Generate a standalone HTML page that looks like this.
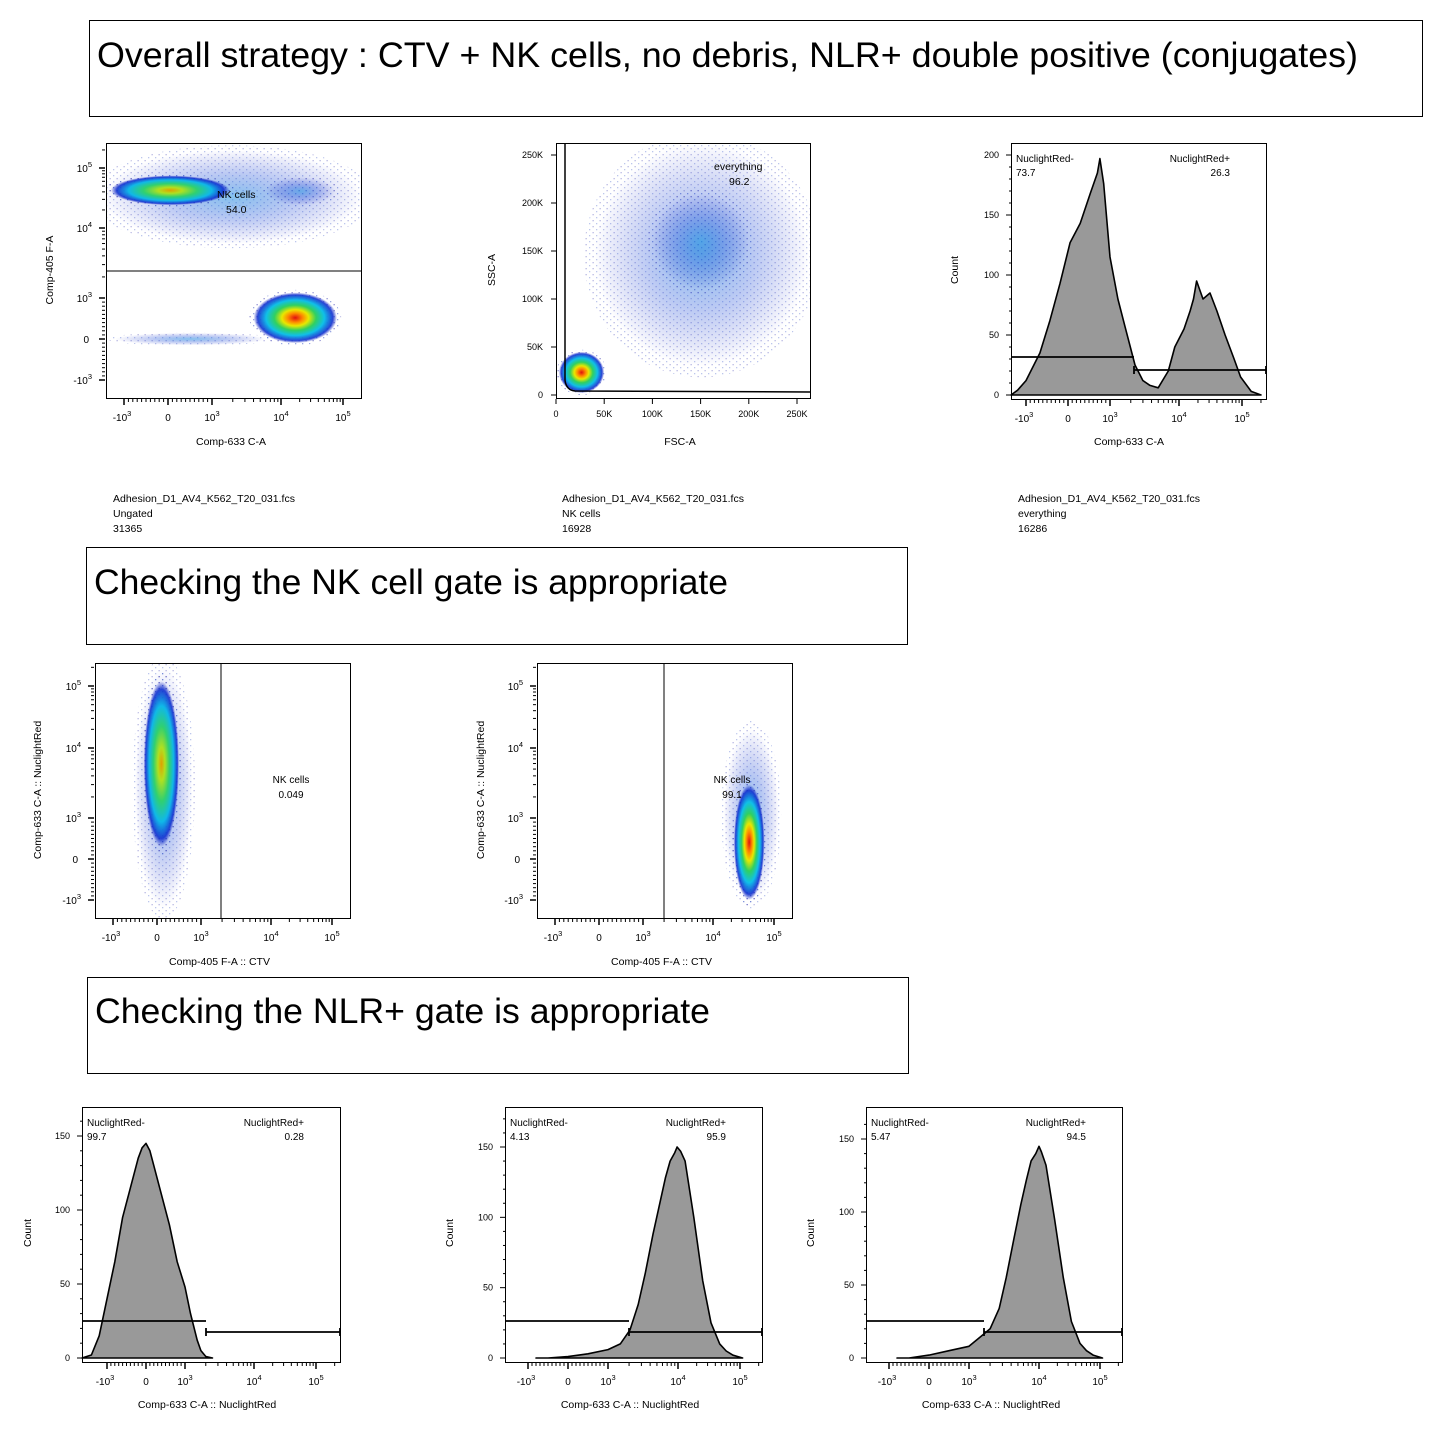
<!DOCTYPE html>
<html><head><meta charset="utf-8"><style>
html,body{margin:0;padding:0;background:#fff}
svg{display:block;font-family:"Liberation Sans",Arial,sans-serif}
</style></head><body>
<svg id="fig" width="1443" height="1443" viewBox="0 0 1443 1443">
<defs>
<radialGradient id="hot"><stop offset="0" stop-color="#e01010"/><stop offset="0.18" stop-color="#ff8a00"/><stop offset="0.32" stop-color="#e8e800"/><stop offset="0.5" stop-color="#30d060"/><stop offset="0.7" stop-color="#10c0e8"/><stop offset="0.9" stop-color="#1030d0" stop-opacity="0.9"/><stop offset="1" stop-color="#1020c0" stop-opacity="0"/></radialGradient>
<radialGradient id="warm"><stop offset="0" stop-color="#e0a000"/><stop offset="0.2" stop-color="#b0e020"/><stop offset="0.45" stop-color="#30d070"/><stop offset="0.7" stop-color="#10b8e8"/><stop offset="0.9" stop-color="#1030d0" stop-opacity="0.9"/><stop offset="1" stop-color="#1020c0" stop-opacity="0"/></radialGradient>
<radialGradient id="cool"><stop offset="0" stop-color="#2090e0" stop-opacity="0.55"/><stop offset="0.5" stop-color="#2050d8" stop-opacity="0.3"/><stop offset="1" stop-color="#1020c0" stop-opacity="0"/></radialGradient>
<pattern id="dots" width="7" height="6" patternUnits="userSpaceOnUse"><rect x="1" y="1" width="1.3" height="1.3" fill="#2040c0"/><rect x="4.5" y="4" width="1.3" height="1.3" fill="#1010a0"/></pattern>
</defs>
<g id="titles">
<rect x="89.5" y="20.5" width="1333" height="96" fill="none" stroke="#000"/>
<text x="97" y="67" font-size="35" textLength="1261" lengthAdjust="spacingAndGlyphs">Overall strategy : CTV + NK cells, no debris,  NLR+ double positive (conjugates)</text>
<rect x="86.5" y="547.5" width="821" height="97" fill="none" stroke="#000"/>
<text x="94" y="594" font-size="35" textLength="634" lengthAdjust="spacingAndGlyphs">Checking the NK cell gate is appropriate</text>
<rect x="87.5" y="977.5" width="821" height="96" fill="none" stroke="#000"/>
<text x="95" y="1023" font-size="35" textLength="615" lengthAdjust="spacingAndGlyphs">Checking the NLR+ gate is appropriate</text>
</g>
<g id="layer"></g>
</svg>
<script>
// ---------- data ----------
const topHistX = [-1400,-1200,-1000,-670,-430,-190,50,290,530,700,760,850,1000,1300,1650,2300,3000,3800,5000,7000,8700,12000,15000,17000,19000,24000,31000,40000,54000,75000,95000,140000,200000];
const topHistY = [0,4,12,35,62,93,127,143,168,185,197,176,115,80,57,25,12,8,6,20,40,55,70,80,95,80,85,70,50,30,15,3,0];
const b1HistX = [-1700,-1400,-1200,-1000,-800,-600,-400,-200,-100,0,100,200,400,600,800,1000,1200,1500,1700,2000,2500];
const b1HistY = [0,2,15,40,65,95,115,135,142,145,140,130,110,90,65,48,30,12,5,1,0];
const b2HistX = [-800,-500,0,500,1000,1500,2060,2700,3400,4400,5500,6600,7700,9000,9700,11000,13000,18000,25000,34000,47000,60000,77000,110000];
const b2HistY = [0,0,1,3,6,10,20,38,60,88,110,128,140,146,150,147,140,100,55,25,10,5,2,0];
const b3HistX = [-800,-500,0,500,1000,1500,2000,2700,3400,4400,5500,6600,7700,9000,10000,11000,13000,18000,25000,34000,47000,60000,77000,110000];
const b3HistY = [0,0,2,5,8,15,20,34,55,82,105,122,135,140,145,141,132,95,55,25,10,5,2,0];
const histGateLabels = [["NuclightRed-","73.7","NuclightRed+","26.3"],["NuclightRed-","99.7","NuclightRed+","0.28"],["NuclightRed-","4.13","NuclightRed+","95.9"],["NuclightRed-","5.47","NuclightRed+","94.5"]];
const countTicks = [0,50,100,150,200];
const linTicks = [0,50000,100000,150000,200000,250000];
const linTickLabels = ["0","50K","100K","150K","200K","250K"];

// ---------- helpers ----------
const NS="http://www.w3.org/2000/svg";
const layer=document.getElementById('layer');
const defs=document.querySelector('defs');
let clipN=0;
function mk(tag,attrs,parent){const e=document.createElementNS(NS,tag);for(const k in attrs)e.setAttribute(k,attrs[k]);(parent||layer).appendChild(e);return e;}
function txt(x,y,s,size,parent,anchor){const t=mk('text',{x:x,y:y,'font-size':size||10.5,'text-anchor':anchor||'start'},parent);t.textContent=s;return t;}
function clipGroup(g,box){const id='clip'+(clipN++);const c=mk('clipPath',{id:id},defs);mk('rect',{x:box[0],y:box[1],width:box[2]-box[0],height:box[3]-box[1]},c);return mk('g',{'clip-path':'url(#'+id+')'},g);}
function logicle(t){return v=> v<=1000 ? t[1]+(t[2]-t[1])*v/1000 : v<=1e4 ? t[2]+(t[3]-t[2])*Math.log10(v/1000) : t[3]+(t[4]-t[3])*Math.log10(v/1e4);}
function lin(p0,p1,v1){return v=>p0+(p1-p0)*v/v1;}
function pow10(parent,x,y,neg,exp,anchor){const t=mk('text',{x:x,y:y,'font-size':10,'text-anchor':anchor},parent);t.appendChild(document.createTextNode((neg?'-':'')+'10'));const s=mk('tspan',{'font-size':7.5,dy:-5},t);s.textContent=exp;return t;}
function logTicksX(g,sx,yb,xr){
  const maj=[[-1000,'-',3],[0,null,0],[1000,'',3],[10000,'',4],[100000,'',5]];
  for(let v=-1000;v<=1000;v+=100){const x=sx(v);if(x<xr[0]||x>xr[1])continue;mk('line',{x1:x,x2:x,y1:yb,y2:yb+(v%1000==0?6:3),stroke:'#000'},g);}
  for(let d=1000;d<1e6;d*=10)for(let m=2;m<10;m++){const x=sx(d*m);if(x>xr[1])break;mk('line',{x1:x,x2:x,y1:yb,y2:yb+3,stroke:'#000'},g);}
  maj.forEach(m=>{const x=sx(m[0]);mk('line',{x1:x,x2:x,y1:yb,y2:yb+6,stroke:'#000','stroke-width':1.5},g);
    if(m[1]===null)txt(x,yb+22,'0',10,g,'middle');else pow10(g,x+(m[1]?-2:0),yb+22,m[1]=='-',m[2],'middle');});
}
function logTicksY(g,sy,xl,yr){
  const maj=[[-1000,'-',3],[0,null,0],[1000,'',3],[10000,'',4],[100000,'',5]];
  for(let v=-1000;v<=1000;v+=100){const y=sy(v);if(y>yr[1]||y<yr[0])continue;mk('line',{y1:y,y2:y,x1:xl,x2:xl-(v%1000==0?6:3),stroke:'#000'},g);}
  for(let d=1000;d<1e6;d*=10)for(let m=2;m<10;m++){const y=sy(d*m);if(y<yr[0])break;mk('line',{y1:y,y2:y,x1:xl,x2:xl-3,stroke:'#000'},g);}
  maj.forEach(m=>{const y=sy(m[0]);mk('line',{y1:y,y2:y,x1:xl,x2:xl-6,stroke:'#000','stroke-width':1.5},g);
    if(m[1]===null)txt(xl-16,y+4,'0',10,g,'end');else pow10(g,xl-13,y+4,m[1]=='-',m[2],'end');});
}
function yTitle(g,x,y,s){const t=txt(x,y,s,10.5,g,'middle');t.setAttribute('transform','rotate(-90 '+x+' '+y+')');return t;}
function blob(g,sx,sy,b,grad){
  const x0=sx(b[0]),x1=sx(b[1]),y0=sy(b[2]),y1=sy(b[3]);
  const cx=(x0+x1)/2,cy=(y0+y1)/2;
  mk('ellipse',{cx:cx,cy:cy,rx:Math.abs(x1-x0)/2*1.1,ry:Math.abs(y1-y0)/2*1.1,fill:'url(#dots)',opacity:grad=='cool'?0.3:0.45},g);
  mk('ellipse',{cx:cx,cy:cy,rx:Math.abs(x1-x0)/2,ry:Math.abs(y1-y0)/2,fill:'url(#'+grad+')'},g);
}
function info(g,x,y,lines){lines.forEach((s,i)=>txt(x,y+i*15,s,10.5,g));}

// ---------- scatter 1 ----------
(function(){
 const g=mk('g',{});
 const sx=logicle([121,168,212,281,343]), sy=logicle([382,339,298,228,168]);
 const c=clipGroup(g,[106,143,361,398]);
 blob(c,sx,sy,[-1500,200000,6000,200000],'cool');
 blob(c,sx,sy,[-1300,1800,24000,75000],'warm');
 blob(c,sx,sy,[6000,75000,24000,70000],'cool');
 blob(c,sx,sy,[-1200,6000,-150,150],'cool');
 blob(c,sx,sy,[4000,80000,-100,1200],'hot');
 mk('rect',{x:106.5,y:143.5,width:255,height:255,fill:'none',stroke:'#000'},g);
 const gate=mk('line',{x1:106,x2:361,y1:271,y2:271,stroke:'#000'},g);
 txt(217,198,'NK cells',10.5,g);txt(226,213,'54.0',10.5,g);
 logTicksX(g,sx,399,[106,361]);logTicksY(g,sy,105,[143,398]);
 txt(231,445,'Comp-633 C-A',10.5,g,'middle');yTitle(g,53,270,'Comp-405 F-A');
 info(g,113,502,['Adhesion_D1_AV4_K562_T20_031.fcs','Ungated','31365']);
})();
// ---------- scatter 2 ----------
(function(){
 const g=mk('g',{});
 const sx=lin(556,797,250000), sy=lin(395,155,250000);
 const c=clipGroup(g,[556,143,810,398]);
 blob(c,sx,sy,[40000,262000,30000,262000],'cool');
 blob(c,sx,sy,[100000,200000,110000,210000],'cool');
 blob(c,sx,sy,[3000,50000,2000,45000],'hot');
 mk('rect',{x:556.5,y:143.5,width:254,height:255,fill:'none',stroke:'#000'},g);
 const gate=mk('path',{d:'M565 143 L565 380 Q566 390 575 391 L810 392',fill:'none',stroke:'#000','stroke-width':1.5},g);
 txt(714,170,'everything',10.5,g);txt(729,185,'96.2',10.5,g);
 linTicks.forEach((v,i)=>{const x=sx(v),y=sy(v);mk('line',{x1:x,x2:x,y1:399,y2:404,stroke:'#000'},g);txt(x,417,linTickLabels[i],9,g,'middle');
   mk('line',{x1:556,x2:551,y1:y,y2:y,stroke:'#000'},g);txt(543,y+3,linTickLabels[i],9,g,'end');});
 txt(680,445,'FSC-A',10.5,g,'middle');yTitle(g,495,270,'SSC-A');
 info(g,562,502,['Adhesion_D1_AV4_K562_T20_031.fcs','NK cells','16928']);
})();
// ---------- histograms ----------
function hist(name,X,Y,sx,sy,box,gates,labels,xt,ytx,yty,infoLines,ymax){
 const g=mk('g',{});
 let d='M'+Math.max(box[0],sx(X[0]))+' '+sy(0);
 X.forEach((v,i)=>{const x=Math.min(box[2],Math.max(box[0],sx(v)));d+=' L'+x.toFixed(1)+' '+sy(Y[i]).toFixed(1);});
 d+=' L'+Math.min(box[2],sx(X[X.length-1]))+' '+sy(0)+'Z';
 mk('path',{d:d,fill:'#999',stroke:'#000','stroke-width':1.6,'stroke-linejoin':'round'},g);
 mk('rect',{x:box[0]+.5,y:box[1]+.5,width:box[2]-box[0],height:box[3]-box[1],fill:'none',stroke:'#000'},g);
 const gl=mk('path',{d:'M'+box[0]+' '+gates[0]+' H'+gates[1]+' M'+gates[1]+' '+(gates[2]-4)+' V'+(gates[2]+4)+' M'+gates[1]+' '+gates[2]+' H'+box[2]+' M'+box[2]+' '+(gates[2]-4)+' V'+(gates[2]+4),fill:'none',stroke:'#000','stroke-width':1.8},g);
 
 txt(box[0]+5,box[1]+19,labels[0],10,g);txt(box[0]+5,box[1]+33,labels[1],10,g);
 txt(box[2]-36,box[1]+19,labels[2],10,g,'end');txt(box[2]-36,box[1]+33,labels[3],10,g,'end');
 logTicksX(g,sx,box[3]+1,[box[0],box[2]]);
 countTicks.forEach(c=>{if(c>ymax)return;const y=sy(c);mk('line',{x1:box[0],x2:box[0]-5,y1:y,y2:y,stroke:'#000'},g);txt(box[0]-12,y+3,String(c),9,g,'end');
   for(let m=10;m<50&&c+m<=ymax;m+=10){const yy=sy(c+m);mk('line',{x1:box[0],x2:box[0]-2,y1:yy,y2:yy,stroke:'#000'},g);}});
 txt(xt[0],xt[1],xt[2],10.5,g,'middle');yTitle(g,ytx,yty,'Count');
 if(infoLines)info(g,box[0]+7,502,infoLines);
}
hist('nuclightred-histogram-everything',topHistX,topHistY,logicle([1026,1068,1110,1179,1242]),lin(395,155,200),[1011,143,1266,399],[357,1134,370],histGateLabels[0],[1129,445,'Comp-633 C-A'],958,270,['Adhesion_D1_AV4_K562_T20_031.fcs','everything','16286'],200);
hist('nuclightred-histogram-control',b1HistX,b1HistY,logicle([99,146,185,254,316]),lin(1358,1136,150),[82,1107,340,1362],[1321,206,1332],histGateLabels[1],[207,1408,'Comp-633 C-A :: NuclightRed'],31,1233,null,160);
hist('nuclightred-histogram-sample2',b2HistX,b2HistY,logicle([522,568,608,678,740]),lin(1358,1147,150),[505,1107,762,1362],[1321,629,1332],histGateLabels[2],[630,1408,'Comp-633 C-A :: NuclightRed'],453,1233,null,170);
hist('nuclightred-histogram-sample3',b3HistX,b3HistY,logicle([884,929,969,1039,1100]),lin(1358,1139,150),[866,1107,1122,1362],[1321,984,1332],histGateLabels[3],[991,1408,'Comp-633 C-A :: NuclightRed'],814,1233,null,160);
// ---------- middle scatters ----------
function midScatter(name,xt,yt,box,gateX,blobs,lab,ytx){
 const g=mk('g',{});
 const sx=logicle(xt), sy=logicle(yt);
 const c=clipGroup(g,box);
 blobs.forEach(b=>blob(c,sx,sy,b[0],b[1]));
 mk('rect',{x:box[0]+.5,y:box[1]+.5,width:box[2]-box[0],height:box[3]-box[1],fill:'none',stroke:'#000'},g);
 const gl=mk('line',{x1:gateX,x2:gateX,y1:box[1],y2:box[3],stroke:'#000'},g);
 txt(lab[0],783,'NK cells',10,g,'middle');txt(lab[0],798,lab[1],10,g,'middle');
 logTicksX(g,sx,box[3]+1,[box[0],box[2]]);logTicksY(g,sy,box[0]-1,[box[1],box[3]]);
 txt((box[0]+box[2])/2-3,965,'Comp-405 F-A :: CTV',10.5,g,'middle');yTitle(g,ytx,790,'Comp-633 C-A :: NuclightRed');
}
midScatter('ctv-negative-dotplot',[115,157,201,271,332],[902,859,818,748,686],[95,663,350,918],221,[[[-500,800,-1200,200000],'cool'],[[-300,500,300,120000],'warm']],[291,'0.049'],41);
midScatter('ctv-positive-dotplot',[557,599,643,713,774],[902,859,818,748,686],[537,663,792,918],664,[[[15000,120000,-1000,20000],'cool'],[[22000,70000,-1000,3000],'hot']],[732,'99.1'],484);
</script>
</body></html>
